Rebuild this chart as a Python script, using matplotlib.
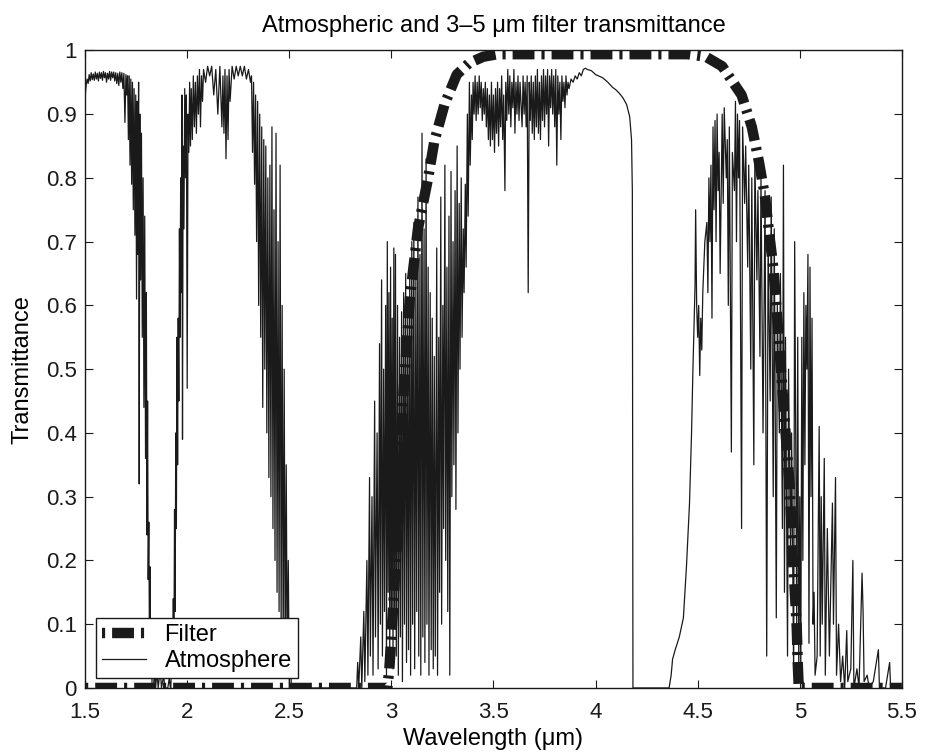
import matplotlib
matplotlib.use("Agg")
import matplotlib.pyplot as plt

plt.rcParams['font.family'] = ['Liberation Sans', 'DejaVu Sans']

# atmospheric transmittance as (wavelength um, transmittance)
band_a = [(1.500, 0.66), (1.501, 0.93), (1.505, 0.945), (1.510, 0.955), (1.515, 0.948),
          (1.520, 0.962), (1.525, 0.952), (1.530, 0.965), (1.535, 0.954), (1.540, 0.963),
          (1.545, 0.953), (1.550, 0.966), (1.555, 0.955), (1.560, 0.964), (1.565, 0.952),
          (1.570, 0.966), (1.575, 0.956), (1.580, 0.965), (1.585, 0.953), (1.590, 0.967),
          (1.595, 0.957), (1.600, 0.965), (1.605, 0.950), (1.610, 0.964), (1.615, 0.955),
          (1.620, 0.967), (1.625, 0.953), (1.630, 0.966), (1.635, 0.957), (1.640, 0.966),
          (1.645, 0.952), (1.650, 0.965), (1.655, 0.948), (1.660, 0.964), (1.665, 0.945),
          (1.670, 0.966), (1.675, 0.950), (1.680, 0.965), (1.685, 0.940), (1.690, 0.964),
          (1.695, 0.887), (1.700, 0.962), (1.704, 0.93), (1.708, 0.96), (1.712, 0.86),
          (1.716, 0.96), (1.720, 0.82), (1.724, 0.955), (1.728, 0.79), (1.732, 0.95),
          (1.736, 0.75), (1.740, 0.94), (1.744, 0.71), (1.748, 0.93), (1.752, 0.61),
          (1.755, 0.92), (1.758, 0.68), (1.762, 0.95), (1.765, 0.32), (1.768, 0.90),
          (1.772, 0.64), (1.776, 0.87), (1.780, 0.55), (1.784, 0.80), (1.788, 0.44),
          (1.792, 0.74), (1.796, 0.36), (1.800, 0.62), (1.803, 0.24), (1.806, 0.45),
          (1.809, 0.17), (1.812, 0.26), (1.815, 0.08), (1.818, 0.19), (1.821, 0.02),
          (1.824, 0.10), (1.828, 0.0), (1.835, 0.0), (1.840, 0.03), (1.845, 0.0),
          (1.852, 0.025), (1.858, 0.0), (1.868, 0.03), (1.874, 0.0), (1.885, 0.02),
          (1.890, 0.0), (1.905, 0.0), (1.912, 0.015), (1.918, 0.0)]

band_b = [(1.920, 0.0), (1.925, 0.08), (1.928, 0.02), (1.932, 0.14), (1.935, 0.05),
          (1.938, 0.28), (1.941, 0.12), (1.944, 0.40), (1.947, 0.25), (1.950, 0.55),
          (1.953, 0.35), (1.956, 0.58), (1.959, 0.45), (1.962, 0.72), (1.965, 0.55),
          (1.968, 0.80), (1.971, 0.62), (1.974, 0.93), (1.977, 0.39), (1.980, 0.85),
          (1.984, 0.72), (1.988, 0.94), (1.992, 0.80), (1.996, 0.93), (2.000, 0.47),
          (2.004, 0.90), (2.008, 0.84), (2.012, 0.95), (2.016, 0.85), (2.020, 0.94),
          (2.025, 0.86), (2.030, 0.96), (2.035, 0.88), (2.040, 0.95), (2.045, 0.87),
          (2.050, 0.96), (2.055, 0.90), (2.060, 0.97), (2.065, 0.88), (2.070, 0.96),
          (2.075, 0.92), (2.080, 0.97), (2.090, 0.95), (2.100, 0.975), (2.110, 0.96),
          (2.120, 0.975), (2.130, 0.93), (2.140, 0.97), (2.150, 0.90), (2.160, 0.975),
          (2.170, 0.88), (2.175, 0.96), (2.180, 0.87), (2.185, 0.97), (2.190, 0.83),
          (2.195, 0.96), (2.200, 0.86), (2.205, 0.97), (2.210, 0.92), (2.220, 0.975),
          (2.230, 0.955), (2.240, 0.975), (2.250, 0.96), (2.260, 0.975), (2.270, 0.96),
          (2.280, 0.975), (2.290, 0.955), (2.300, 0.97), (2.310, 0.95), (2.315, 0.96),
          (2.320, 0.84), (2.325, 0.95), (2.330, 0.79), (2.335, 0.93), (2.340, 0.70),
          (2.345, 0.92), (2.350, 0.60), (2.355, 0.90), (2.360, 0.55), (2.365, 0.88),
          (2.370, 0.44), (2.375, 0.86), (2.380, 0.50), (2.385, 0.85), (2.390, 0.40),
          (2.395, 0.80), (2.400, 0.33), (2.405, 0.82), (2.410, 0.30), (2.415, 0.88),
          (2.420, 0.25), (2.425, 0.75), (2.430, 0.20), (2.435, 0.87), (2.440, 0.15),
          (2.445, 0.70), (2.450, 0.12), (2.455, 0.82), (2.460, 0.08), (2.465, 0.60),
          (2.470, 0.05), (2.475, 0.50), (2.480, 0.03), (2.485, 0.35), (2.490, 0.02),
          (2.495, 0.20), (2.500, 0.0), (2.505, 0.08), (2.510, 0.0), (2.650, 0.0),
          (2.800, 0.0)]

band_c = [(2.830, 0.0), (2.835, 0.04), (2.840, 0.0), (2.850, 0.08), (2.855, 0.0),
          (2.865, 0.12), (2.870, 0.01), (2.880, 0.20), (2.885, 0.02), (2.893, 0.33),
          (2.897, 0.05), (2.905, 0.30), (2.910, 0.02), (2.918, 0.45), (2.922, 0.08),
          (2.930, 0.40), (2.935, 0.03), (2.942, 0.54), (2.946, 0.10), (2.952, 0.64),
          (2.956, 0.05), (2.962, 0.50), (2.966, 0.12), (2.972, 0.60), (2.976, 0.02),
          (2.980, 0.70), (2.984, 0.15), (2.988, 0.62), (2.992, 0.04), (2.996, 0.66),
          (3.000, 0.10), (3.004, 0.58), (3.008, 0.03), (3.012, 0.69), (3.016, 0.12),
          (3.020, 0.68), (3.024, 0.05), (3.030, 0.60), (3.034, 0.02), (3.040, 0.55),
          (3.044, 0.08), (3.050, 0.59), (3.054, 0.01), (3.060, 0.62), (3.064, 0.10),
          (3.070, 0.65), (3.074, 0.04), (3.080, 0.58), (3.084, 0.06), (3.090, 0.66),
          (3.094, 0.02), (3.100, 0.70), (3.104, 0.10), (3.110, 0.73), (3.114, 0.03),
          (3.120, 0.64), (3.124, 0.12), (3.130, 0.77), (3.134, 0.05), (3.140, 0.68),
          (3.144, 0.02), (3.150, 0.87), (3.154, 0.08), (3.160, 0.72), (3.164, 0.04),
          (3.170, 0.83), (3.174, 0.10), (3.180, 0.66), (3.184, 0.02), (3.190, 0.62),
          (3.195, 0.06), (3.200, 0.58), (3.205, 0.03), (3.210, 0.52), (3.215, 0.05),
          (3.222, 0.69), (3.226, 0.02), (3.232, 0.55), (3.236, 0.15), (3.242, 0.77),
          (3.246, 0.10), (3.252, 0.60), (3.256, 0.25), (3.262, 0.82), (3.266, 0.20),
          (3.272, 0.66), (3.276, 0.12), (3.282, 0.74), (3.286, 0.02), (3.292, 0.81),
          (3.296, 0.30), (3.302, 0.70), (3.306, 0.35), (3.312, 0.78), (3.316, 0.28),
          (3.322, 0.85), (3.326, 0.40), (3.332, 0.76), (3.336, 0.50), (3.342, 0.80),
          (3.346, 0.55), (3.352, 0.72), (3.356, 0.62), (3.362, 0.79), (3.366, 0.66),
          (3.372, 0.90), (3.376, 0.74), (3.382, 0.95), (3.386, 0.82), (3.392, 0.93),
          (3.396, 0.86), (3.400, 0.95), (3.405, 0.90), (3.410, 0.96), (3.415, 0.89),
          (3.420, 0.95), (3.425, 0.90), (3.430, 0.96), (3.435, 0.91), (3.440, 0.95),
          (3.445, 0.89), (3.450, 0.94), (3.455, 0.90), (3.460, 0.95), (3.465, 0.88),
          (3.470, 0.94), (3.475, 0.86), (3.480, 0.93), (3.485, 0.85), (3.490, 0.95),
          (3.495, 0.86), (3.500, 0.93), (3.505, 0.84), (3.510, 0.94), (3.515, 0.87),
          (3.520, 0.95), (3.525, 0.85), (3.530, 0.94), (3.535, 0.88), (3.540, 0.96),
          (3.545, 0.86), (3.550, 0.93), (3.556, 0.78), (3.560, 0.95), (3.565, 0.89),
          (3.570, 0.97), (3.575, 0.90), (3.580, 0.96), (3.585, 0.88), (3.590, 0.95),
          (3.595, 0.91), (3.600, 0.97), (3.605, 0.87), (3.610, 0.95), (3.615, 0.90),
          (3.620, 0.96), (3.625, 0.89), (3.630, 0.95), (3.640, 0.88), (3.645, 0.96),
          (3.650, 0.90), (3.655, 0.95), (3.660, 0.88), (3.665, 0.96), (3.670, 0.62),
          (3.675, 0.95), (3.680, 0.89), (3.685, 0.96), (3.690, 0.87), (3.695, 0.95),
          (3.700, 0.86), (3.705, 0.96), (3.710, 0.88), (3.715, 0.97), (3.720, 0.87),
          (3.725, 0.95), (3.730, 0.86), (3.735, 0.96), (3.740, 0.89), (3.745, 0.97),
          (3.750, 0.88), (3.755, 0.96), (3.760, 0.90), (3.765, 0.97), (3.770, 0.85),
          (3.775, 0.96), (3.780, 0.91), (3.785, 0.97), (3.790, 0.90), (3.795, 0.96),
          (3.800, 0.88), (3.805, 0.97), (3.810, 0.82), (3.815, 0.96), (3.820, 0.90),
          (3.825, 0.95), (3.830, 0.86), (3.835, 0.96), (3.840, 0.92), (3.845, 0.95),
          (3.850, 0.91), (3.855, 0.96), (3.860, 0.93), (3.865, 0.95), (3.870, 0.94),
          (3.880, 0.955), (3.890, 0.95), (3.900, 0.96), (3.910, 0.955), (3.920, 0.965),
          (3.930, 0.96), (3.940, 0.97), (3.950, 0.972), (3.960, 0.970), (3.980, 0.968),
          (4.000, 0.962), (4.035, 0.957), (4.060, 0.950), (4.083, 0.942), (4.100, 0.938),
          (4.118, 0.932), (4.135, 0.925), (4.152, 0.915), (4.167, 0.896), (4.176, 0.86),
          (4.180, 0.78), (4.182, 0.30), (4.183, 0.0), (4.300, 0.0)]

band_d = [(4.360, 0.0), (4.370, 0.02), (4.377, 0.045), (4.390, 0.06), (4.410, 0.08),
          (4.430, 0.11), (4.445, 0.19), (4.460, 0.29), (4.470, 0.40), (4.476, 0.49),
          (4.482, 0.57), (4.487, 0.63), (4.490, 0.75), (4.495, 0.60), (4.500, 0.55),
          (4.505, 0.60), (4.510, 0.49), (4.515, 0.58), (4.520, 0.53), (4.525, 0.62),
          (4.535, 0.70), (4.545, 0.73), (4.550, 0.62), (4.555, 0.80), (4.560, 0.70),
          (4.565, 0.82), (4.570, 0.58), (4.575, 0.88), (4.580, 0.75), (4.585, 0.89),
          (4.590, 0.70), (4.595, 0.90), (4.600, 0.78), (4.605, 0.84), (4.610, 0.65),
          (4.620, 0.90), (4.625, 0.76), (4.630, 0.91), (4.640, 0.80), (4.645, 0.86),
          (4.650, 0.60), (4.655, 0.88), (4.665, 0.37), (4.670, 0.84), (4.680, 0.78),
          (4.685, 0.92), (4.690, 0.70), (4.695, 0.90), (4.700, 0.80), (4.705, 0.89),
          (4.715, 0.25), (4.720, 0.88), (4.730, 0.76), (4.735, 0.85), (4.745, 0.66),
          (4.750, 0.82), (4.760, 0.50), (4.765, 0.80), (4.775, 0.35), (4.780, 0.83),
          (4.790, 0.64), (4.795, 0.78), (4.805, 0.52), (4.810, 0.80), (4.820, 0.40),
          (4.830, 0.78), (4.838, 0.05), (4.845, 0.70), (4.855, 0.45), (4.860, 0.77),
          (4.870, 0.30), (4.875, 0.72), (4.885, 0.11), (4.890, 0.60), (4.900, 0.40),
          (4.905, 0.65), (4.915, 0.25), (4.920, 0.82), (4.925, 0.15), (4.930, 0.55),
          (4.940, 0.05), (4.945, 0.50), (4.955, 0.20), (4.960, 0.40), (4.970, 0.02),
          (4.975, 0.70), (4.985, 0.10), (4.990, 0.55), (4.995, 0.02), (5.000, 0.30),
          (5.005, 0.02), (5.010, 0.55), (5.015, 0.20), (5.020, 0.62), (5.025, 0.35),
          (5.030, 0.60), (5.035, 0.50), (5.040, 0.68), (5.045, 0.07), (5.050, 0.66),
          (5.055, 0.30), (5.060, 0.58), (5.065, 0.10), (5.070, 0.15), (5.075, 0.02),
          (5.085, 0.05), (5.095, 0.41), (5.100, 0.05), (5.105, 0.30), (5.110, 0.10),
          (5.120, 0.36), (5.125, 0.02), (5.135, 0.25), (5.145, 0.05), (5.160, 0.29),
          (5.165, 0.10), (5.175, 0.33), (5.180, 0.02), (5.190, 0.10), (5.200, 0.01),
          (5.210, 0.05), (5.220, 0.0), (5.230, 0.09), (5.235, 0.01), (5.250, 0.03),
          (5.260, 0.20), (5.265, 0.0), (5.280, 0.03), (5.290, 0.0), (5.305, 0.18),
          (5.310, 0.12), (5.315, 0.01), (5.330, 0.02), (5.340, 0.0), (5.360, 0.01),
          (5.385, 0.06), (5.390, 0.0), (5.420, 0.0), (5.440, 0.04), (5.445, 0.0),
          (5.500, 0.0)]

# 3-5 um bandpass filter
filter_wl = [1.50, 2.98, 2.99, 3.03, 3.055, 3.09, 3.13, 3.18, 3.21, 3.26, 3.32, 3.38,
             3.45, 3.52, 4.00, 4.45, 4.54, 4.62, 4.715, 4.765, 4.80, 4.83, 4.85, 4.87,
             4.885, 4.91, 4.935, 4.95, 4.965, 4.975, 4.985, 4.99, 4.995, 5.50]
filter_t = [0.0, 0.0, 0.03, 0.24, 0.44, 0.61, 0.72, 0.80, 0.857, 0.915, 0.962, 0.98,
            0.99, 0.994, 0.994, 0.994, 0.99, 0.975, 0.93, 0.88, 0.825, 0.77, 0.713, 0.66,
            0.60, 0.49, 0.38, 0.32, 0.21, 0.155, 0.096, 0.04, 0.0, 0.0]

atm = band_a + band_b + band_c + band_d
atm_wl = [p[0] for p in atm]
atm_t = [p[1] for p in atm]

fig = plt.figure(figsize=(9.25, 7.55), dpi=100)
ax = fig.add_axes([0.092, 0.0888, 0.883, 0.8445])

ink = '#1a1a1a'
ax.plot(filter_wl, filter_t, color=ink, lw=7.5,
        linestyle=(2.77, (2.1, 0.67, 0.3, 0.67)), label='Filter')
ax.plot(atm_wl, atm_t, color=ink, lw=0.9, label='Atmosphere')

ax.set_xlim(1.5, 5.5)
ax.set_ylim(0, 1)
ax.set_xticks([1.5, 2, 2.5, 3, 3.5, 4, 4.5, 5, 5.5])
ax.set_xticklabels(['1.5', '2', '2.5', '3', '3.5', '4', '4.5', '5', '5.5'])
ax.set_yticks([0, 0.1, 0.2, 0.3, 0.4, 0.5, 0.6, 0.7, 0.8, 0.9, 1])
ax.set_yticklabels(['0', '0.1', '0.2', '0.3', '0.4', '0.5', '0.6', '0.7', '0.8', '0.9', '1'])
ax.tick_params(direction='in', top=True, right=True, length=6, width=0.8,
               labelsize=16, colors=ink)
ax.tick_params(axis='x', pad=10)
ax.tick_params(axis='y', pad=6)
for s in ax.spines.values():
    s.set_linewidth(1.0)
    s.set_color(ink)

ax.set_title('Atmospheric and 3\u20135 \u03bcm filter transmittance', fontsize=17, pad=13)
ax.set_xlabel('Wavelength (\u03bcm)', fontsize=17, labelpad=4)
ax.set_ylabel('Transmittance', fontsize=17, labelpad=9)

leg = ax.legend(loc='lower left', bbox_to_anchor=(0.0135, 0.016), fontsize=17,
                handlelength=1.85, frameon=True, fancybox=False, framealpha=1,
                edgecolor=ink, borderpad=0.25, labelspacing=0.15,
                handletextpad=0.8, borderaxespad=0)
leg.get_frame().set_linewidth(1.0)

fig.savefig('out.png', dpi=100)
